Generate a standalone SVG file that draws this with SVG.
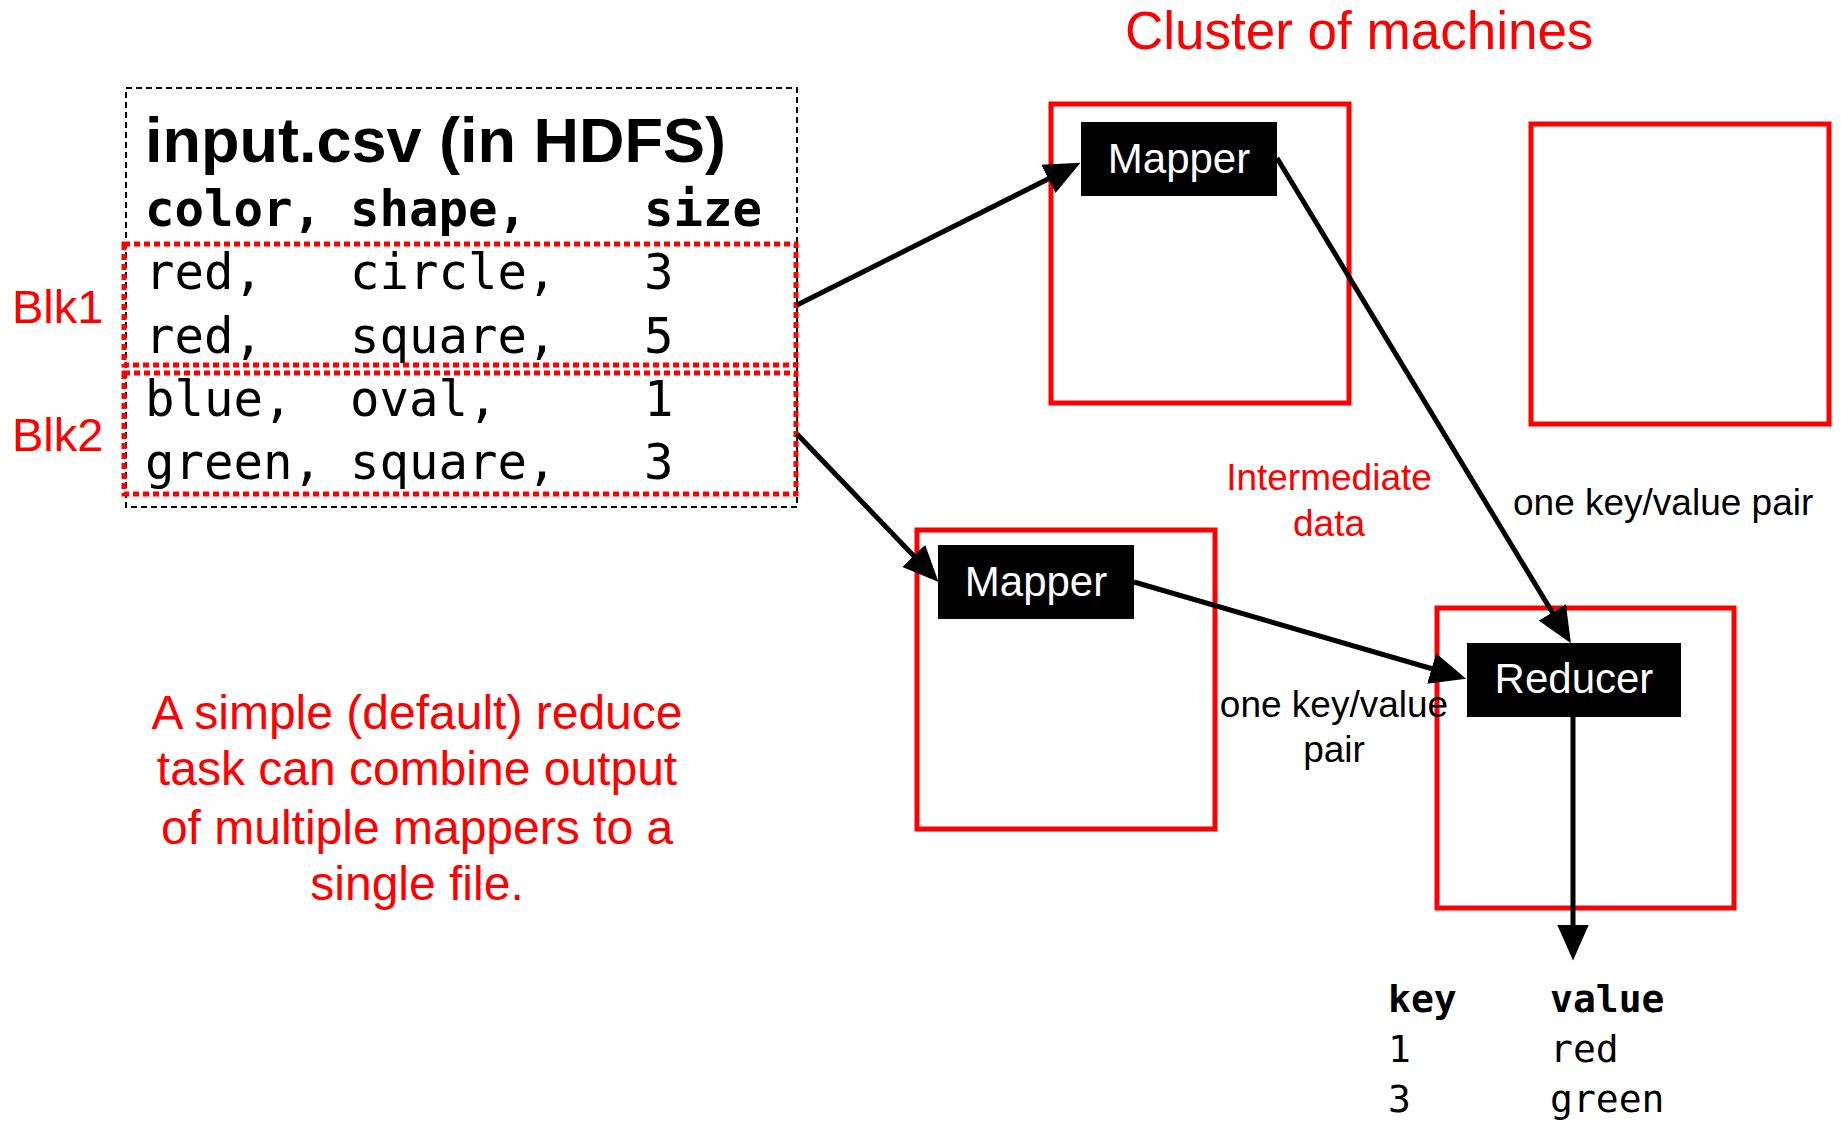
<svg xmlns="http://www.w3.org/2000/svg" width="1841" height="1121" viewBox="0 0 1841 1121">
<style>
.sans{font-family:"Liberation Sans",Arial,sans-serif}
.mono{font-family:"DejaVu Sans Mono","Liberation Mono",monospace}
.red{fill:#ff0000}
.machine{fill:none;stroke:#ff0000;stroke-width:5}
.task{fill:#000}
.tasklabel{font-family:"Liberation Sans",Arial,sans-serif;font-size:42px;fill:#fff;text-anchor:middle}
.conn{stroke:#000;stroke-width:5;fill:none;marker-end:url(#ah)}
.blk{fill:none;stroke:#ff0000;stroke-width:5;stroke-dasharray:6 4}
</style>
<defs>
<marker id="ah" markerUnits="userSpaceOnUse" markerWidth="36" markerHeight="32" viewBox="0 0 34 30" refX="25" refY="15" orient="auto">
<path d="M0,0 L34,15 L0,30 Z" fill="#000"/>
</marker>
</defs>
<rect width="1841" height="1121" fill="#fff"/>

<text class="sans red" x="1125" y="49" font-size="53">Cluster of machines</text>

<g id="input-file">
<rect x="126" y="88" width="671" height="419" fill="none" stroke="#000" stroke-width="2" stroke-dasharray="6 4"/>
<text class="sans" x="145" y="162" font-size="63" font-weight="bold">input.csv (in HDFS)</text>
<g class="mono" font-size="49">
<text x="145" y="226" font-weight="bold">color,</text>
<text x="350" y="226" font-weight="bold">shape,</text>
<text x="644" y="226" font-weight="bold">size</text>
<text x="145" y="289">red,</text><text x="350" y="289">circle,</text><text x="644" y="289">3</text>
<text x="145" y="353">red,</text><text x="350" y="353">square,</text><text x="644" y="353">5</text>
<text x="145" y="416">blue,</text><text x="350" y="416">oval,</text><text x="644" y="416">1</text>
<text x="145" y="479">green,</text><text x="350" y="479">square,</text><text x="644" y="479">3</text>
</g>
</g>

<g id="blk1">
<rect class="blk" x="124" y="244" width="672" height="121"/>
<text class="sans red" x="12" y="323" font-size="47">Blk1</text>
</g>
<g id="blk2">
<rect class="blk" x="124" y="373" width="672" height="121"/>
<text class="sans red" x="12" y="451" font-size="47">Blk2</text>
</g>

<g id="machine-1">
<rect class="machine" x="1051" y="104" width="298" height="299"/>
</g>
<g id="mapper-1">
<rect class="task" x="1081" y="122" width="196" height="74"/>
<text class="tasklabel" x="1179" y="173">Mapper</text>
</g>

<g id="machine-2">
<rect class="machine" x="1531" y="124" width="298" height="300"/>
</g>

<g id="machine-3">
<rect class="machine" x="917" y="530" width="298" height="299"/>
</g>
<g id="mapper-2">
<rect class="task" x="938" y="545" width="196" height="74"/>
<text class="tasklabel" x="1036" y="596">Mapper</text>
</g>

<g id="machine-4">
<rect class="machine" x="1437" y="608" width="297" height="300"/>
</g>
<g id="reducer">
<rect class="task" x="1467" y="643" width="214" height="74"/>
<text class="tasklabel" x="1574" y="693">Reducer</text>
</g>

<g id="connectors">
<line class="conn" x1="797" y1="305" x2="1072" y2="167"/>
<line class="conn" x1="797" y1="434" x2="932" y2="575"/>
<line class="conn" x1="1277" y1="158" x2="1566" y2="635"/>
<line class="conn" x1="1134" y1="582" x2="1457" y2="676"/>
<line class="conn" x1="1573" y1="717" x2="1573" y2="951"/>
</g>

<g id="labels" class="sans">
<text class="red" x="1329" y="490" font-size="37" text-anchor="middle">Intermediate</text>
<text class="red" x="1329" y="536" font-size="37" text-anchor="middle">data</text>
<text x="1513" y="515" font-size="37">one key/value pair</text>
<text x="1334" y="717" font-size="37" text-anchor="middle">one key/value</text>
<text x="1334" y="762" font-size="37" text-anchor="middle">pair</text>
<g class="red" font-size="48" text-anchor="middle">
<text x="417" y="729">A simple (default) reduce</text>
<text x="417" y="785">task can combine output</text>
<text x="417" y="844">of multiple mappers to a</text>
<text x="417" y="900">single file.</text>
</g>
</g>

<g id="output" class="mono" font-size="38">
<text x="1388" y="1012" font-weight="bold">key</text>
<text x="1550" y="1012" font-weight="bold">value</text>
<text x="1388" y="1062">1</text>
<text x="1550" y="1062">red</text>
<text x="1388" y="1112">3</text>
<text x="1550" y="1112">green</text>
</g>
</svg>
